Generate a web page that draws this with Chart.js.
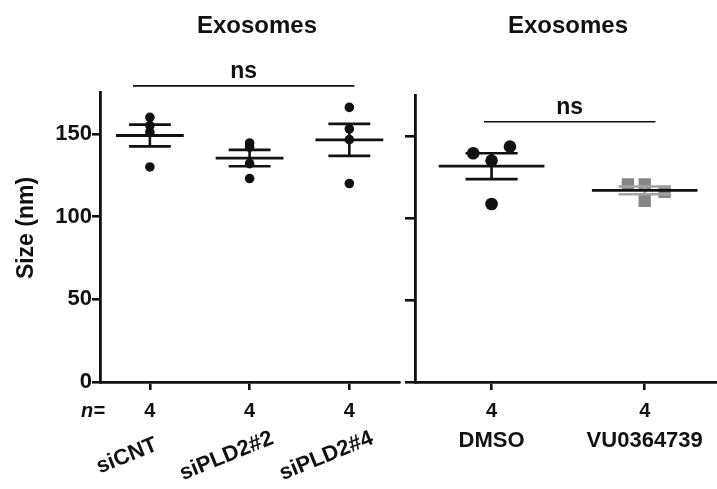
<!DOCTYPE html>
<html><head><meta charset="utf-8">
<script src="https://cdn.jsdelivr.net/npm/chart.js@4/dist/chart.umd.min.js"></script>
<style>
html,body{margin:0;padding:0;background:#fff;}
#wrap{position:relative;width:717px;height:489px;overflow:hidden;background:#fff;}
canvas{position:absolute;top:0;}
#c1{left:0;} #c2{left:400px;}
</style></head><body>
<div id="wrap"><canvas id="c1" width="404" height="489"></canvas><canvas id="c2" width="330" height="489"></canvas></div>
<script>
// ---- data ----
const leftCategories = ['siCNT', 'siPLD2#2', 'siPLD2#4'];
const siCNT = [160, 155, 151, 130];
const siPLD2_2 = [144.5, 142, 132, 123];
const siPLD2_4 = [166, 153, 146.5, 120];
const rightCategories = ['DMSO', 'VU0364739'];
const dmso = [139.5, 143.5, 135, 108.5];
const vu = [120.5, 120.5, 110.5, 116];
const dmsoJitter = [-0.12, 0.12, 0, 0];
const vuJitter = [-0.11, 0, 0, 0.13];
const yTicks = [0, 50, 100, 150];
const yMax = 175;
const chartTitle = 'Exosomes';
const yTitle = 'Size (nm)';
const sigLeft = {from: -0.17, to: 2.05, y: 179, label: 'ns'};
const sigRight = {from: -0.05, to: 1.07, y: 158.7, label: 'ns'};

const FONT = '"Liberation Sans", Arial, sans-serif';
const INK = '#111';

function meanSem(a) {
  const n = a.length;
  const m = a.reduce((s, v) => s + v, 0) / n;
  const sd = Math.sqrt(a.reduce((s, v) => s + (v - m) * (v - m), 0) / (n - 1));
  return {m, sem: sd / Math.sqrt(n)};
}

function statsPlugin(groups, meanHalf, capHalf, barColors) {
  return {
    id: 'stats',
    afterDatasetsDraw(chart) {
      const {ctx, scales: {x, y}} = chart;
      ctx.save();
      ctx.lineCap = 'butt';
      groups.forEach((g, i) => {
        const {m, sem} = meanSem(g);
        const cx = x.getPixelForValue(i);
        const yt = y.getPixelForValue(m + sem), yb = y.getPixelForValue(m - sem), ym = y.getPixelForValue(m);
        ctx.strokeStyle = barColors[i];
        ctx.lineWidth = 2.6;
        ctx.beginPath();
        ctx.moveTo(cx, yt); ctx.lineTo(cx, yb);
        ctx.moveTo(x.getPixelForValue(i - capHalf), yt); ctx.lineTo(x.getPixelForValue(i + capHalf), yt);
        ctx.moveTo(x.getPixelForValue(i - capHalf), yb); ctx.lineTo(x.getPixelForValue(i + capHalf), yb);
        ctx.stroke();
        ctx.strokeStyle = INK;
        ctx.lineWidth = 2.8;
        ctx.beginPath();
        ctx.moveTo(x.getPixelForValue(i - meanHalf), ym); ctx.lineTo(x.getPixelForValue(i + meanHalf), ym);
        ctx.stroke();
      });
      ctx.restore();
    }
  };
}

function textPlugin(cfg) {
  return {
    id: 'texts',
    afterDraw(chart) {
      const {ctx, chartArea, scales: {x, y}} = chart;
      ctx.save();
      ctx.fillStyle = INK;
      // title
      ctx.font = 'bold 24px ' + FONT;
      ctx.textAlign = 'center';
      ctx.textBaseline = 'alphabetic';
      ctx.fillText(chartTitle, cfg.titleX, 33);
      // significance
      const s = cfg.sig;
      const ly = y.getPixelForValue(s.y);
      ctx.strokeStyle = INK;
      ctx.lineWidth = 1.6;
      ctx.beginPath();
      ctx.moveTo(x.getPixelForValue(s.from), ly);
      ctx.lineTo(x.getPixelForValue(s.to), ly);
      ctx.stroke();
      ctx.font = 'bold 23px ' + FONT;
      ctx.fillText(s.label, x.getPixelForValue((s.from + s.to) / 2), ly - 7.5);
      // n counts
      ctx.font = 'bold 20px ' + FONT;
      cfg.groups.forEach((g, i) => {
        ctx.fillText(String(g.length), x.getPixelForValue(i), 417);
      });
      if (cfg.nLabel) {
        ctx.font = 'italic bold 20px ' + FONT;
        ctx.textAlign = 'right';
        ctx.fillText('n=', 105, 417);
      }
      // category labels
      ctx.font = 'bold 22px ' + FONT;
      cfg.cats.forEach((c, i) => {
        const px = x.getPixelForValue(i);
        if (cfg.rotate) {
          ctx.save();
          ctx.translate(px - 23, 456);
          ctx.rotate(-22 * Math.PI / 180);
          ctx.textAlign = 'center';
          ctx.textBaseline = 'middle';
          ctx.fillText(c, 0, 0);
          ctx.restore();
        } else {
          ctx.textAlign = 'center';
          ctx.textBaseline = 'alphabetic';
          ctx.fillText(c, px, 447);
        }
      });
      // y title
      if (cfg.yTitle) {
        ctx.save();
        ctx.translate(27, 228);
        ctx.rotate(-Math.PI / 2);
        ctx.font = 'bold 23px ' + FONT;
        ctx.textAlign = 'center';
        ctx.textBaseline = 'middle';
        ctx.fillText(yTitle, 0, 0);
        ctx.restore();
      }
      ctx.restore();
    }
  };
}

function setTicks(values) {
  return (scale) => { scale.ticks = values.map(v => ({value: v})); };
}

function makeScales(opts) {
  return {
    x: {
      type: 'linear', min: -0.5, max: opts.xMax,
      afterBuildTicks: setTicks(opts.cats.map((_, i) => i)),
      afterFit: (s) => { s.height = 489 - 382; },
      ticks: {display: false},
      grid: {drawOnChartArea: false, drawTicks: true, tickLength: 8, color: INK, lineWidth: 2.6},
      border: {display: true, color: INK, width: 2.8}
    },
    y: {
      type: 'linear', min: 0, max: yMax,
      afterBuildTicks: setTicks(yTicks),
      afterFit: (s) => { s.width = opts.yWidth; },
      ticks: {display: opts.yLabels, padding: 0, color: INK, font: {family: FONT, size: 22, weight: 'bold'}},
      grid: {drawOnChartArea: false, drawTicks: true, tickLength: opts.yTickLen, color: INK, lineWidth: 2.6},
      border: {display: true, color: INK, width: 2.8}
    }
  };
}

const common = {
  responsive: false,
  animation: false,
  devicePixelRatio: 1,
  events: [],
  plugins: {legend: {display: false}, tooltip: {enabled: false}, title: {display: false}}
};

// ---- left chart ----
const leftGroups = [siCNT, siPLD2_2, siPLD2_4];
new Chart(document.getElementById('c1'), {
  type: 'scatter',
  data: {
    datasets: leftGroups.map((g, i) => ({
      label: leftCategories[i],
      data: g.map(v => ({x: i, y: v})),
      pointRadius: 4.8, pointBackgroundColor: INK, pointBorderWidth: 0, pointStyle: 'circle'
    }))
  },
  options: Object.assign({}, common, {
    layout: {padding: {top: 92.5, right: 1.5, left: 0, bottom: 0}},
    scales: makeScales({cats: leftCategories, xMax: 2.5, yWidth: 100, yLabels: true, yTickLen: 8})
  }),
  plugins: [
    statsPlugin(leftGroups, 0.34, 0.21, [INK, INK, INK]),
    textPlugin({titleX: 257, sig: sigLeft, groups: leftGroups, cats: leftCategories, rotate: true, nLabel: true, yTitle: true})
  ]
});

// ---- right chart ----
const rightGroups = [dmso, vu];
new Chart(document.getElementById('c2'), {
  type: 'scatter',
  data: {
    datasets: [
      {label: rightCategories[0], data: dmso.map((v, k) => ({x: 0 + dmsoJitter[k], y: v})),
       pointRadius: 6.3, pointBackgroundColor: INK, pointBorderWidth: 0, pointStyle: 'circle'},
      {label: rightCategories[1], data: vu.map((v, k) => ({x: 1 + vuJitter[k], y: v})),
       pointRadius: 8.7, pointBackgroundColor: '#858585', pointBorderWidth: 0, pointStyle: 'rect'}
    ]
  },
  options: Object.assign({}, common, {
    layout: {padding: {top: 95, right: 0, left: 0, bottom: 0}},
    scales: makeScales({cats: rightCategories, xMax: 1.5, yWidth: 15, yLabels: false, yTickLen: 10})
  }),
  plugins: [
    statsPlugin(rightGroups, 0.345, 0.17, [INK, '#a3a3a3']),
    textPlugin({titleX: 168, sig: sigRight, groups: rightGroups, cats: rightCategories, rotate: false, nLabel: false, yTitle: false})
  ]
});
</script>
</body></html>
